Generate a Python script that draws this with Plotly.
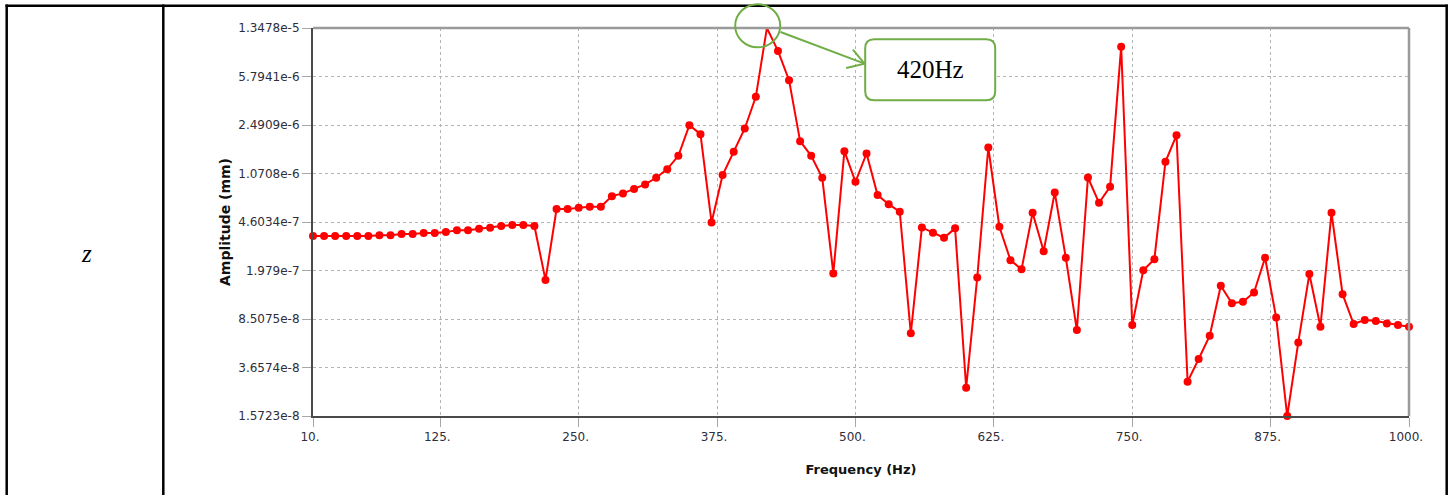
import math
import plotly.graph_objects as go

# Frequency sweep (Hz) and z-direction response amplitude (mm)
freq_hz = [
    10, 20, 30, 40, 50, 60, 70, 80, 90, 100,
    110, 120, 130, 140, 150, 160, 170, 180, 190, 200,
    210, 220, 230, 240, 250, 260, 270, 280, 290, 300,
    310, 320, 330, 340, 350, 360, 370, 380, 390, 400,
    410, 420, 430, 440, 450, 460, 470, 480, 490, 500,
    510, 520, 530, 540, 550, 560, 570, 580, 590, 600,
    610, 620, 630, 640, 650, 660, 670, 680, 690, 700,
    710, 720, 730, 740, 750, 760, 770, 780, 790, 800,
    810, 820, 830, 840, 850, 860, 870, 880, 890, 900,
    910, 920, 930, 940, 950, 960, 970, 980, 990, 1000,
]
amplitude_mm = [
    3.60e-7, 3.60e-7, 3.60e-7, 3.60e-7, 3.60e-7, 3.60e-7, 3.66e-7, 3.66e-7, 3.73e-7, 3.73e-7,
    3.80e-7, 3.80e-7, 3.86e-7, 3.98e-7, 3.98e-7, 4.09e-7, 4.16e-7, 4.29e-7, 4.36e-7, 4.36e-7,
    4.29e-7, 1.68e-7, 5.76e-7, 5.76e-7, 5.89e-7, 6.00e-7, 6.00e-7, 7.22e-7, 7.57e-7, 8.16e-7,
    8.85e-7, 9.94e-7, 1.155e-6, 1.457e-6, 2.485e-6, 2.125e-6, 4.567e-7, 1.041e-6, 1.562e-6, 2.344e-6,
    4.066e-6, 1.3478e-5, 9.05e-6, 5.435e-6, 1.880e-6, 1.457e-6, 9.94e-7, 1.881e-7, 1.580e-6, 9.27e-7,
    1.517e-6, 7.35e-7, 6.28e-7, 5.50e-7, 6.63e-8, 4.19e-7, 3.82e-7, 3.50e-7, 4.12e-7, 2.57e-8,
    1.75e-7, 1.684e-6, 4.24e-7, 2.37e-7, 2.02e-7, 5.40e-7, 2.77e-7, 7.70e-7, 2.47e-7, 7.02e-8,
    9.99e-7, 6.43e-7, 8.49e-7, 9.71e-6, 7.66e-8, 1.99e-7, 2.41e-7, 1.312e-6, 2.088e-6, 2.86e-8,
    4.24e-8, 6.36e-8, 1.52e-7, 1.12e-7, 1.15e-7, 1.35e-7, 2.47e-7, 8.75e-8, 1.5723e-8, 5.66e-8,
    1.86e-7, 7.44e-8, 5.40e-7, 1.31e-7, 7.79e-8, 8.35e-8, 8.21e-8, 7.88e-8, 7.66e-8, 7.44e-8,
]

x_tick_vals = [10, 125, 250, 375, 500, 625, 750, 875, 1000]
x_tick_text = ["10.", "125.", "250.", "375.", "500.", "625.", "750.", "875.", "1000."]
y_tick_text = ["1.5723e-8", "3.6574e-8", "8.5075e-8", "1.979e-7", "4.6034e-7",
               "1.0708e-6", "2.4909e-6", "5.7941e-6", "1.3478e-5"]
y_tick_vals = [float(t) for t in y_tick_text]

row_label = "z"
peak_label = "420Hz"

# Page geometry
FIG_W, FIG_H = 1449, 495
M_L, M_R, M_T, M_B = 313, 40, 28, 79
PW = FIG_W - M_L - M_R
PH = FIG_H - M_T - M_B


def xp(px):
    """Screen pixel x -> paper fraction."""
    return (px - M_L) / PW


def yp(py):
    """Screen pixel y (from top) -> paper fraction."""
    return (FIG_H - M_B - py) / PH


x_lo, x_hi = min(freq_hz), max(freq_hz)
y_lo, y_hi = math.log10(min(amplitude_mm)), math.log10(max(amplitude_mm))

GREEN = "#70ad47"
TICK_FONT = dict(family="DejaVu Sans", size=12, color="#2e2e3c")

fig = go.Figure()
fig.add_trace(go.Scatter(
    x=freq_hz, y=amplitude_mm,
    mode="lines+markers",
    line=dict(color="#ff0000", width=2),
    marker=dict(color="#ff0000", size=8, symbol="circle"),
    cliponaxis=False,
    showlegend=False,
))

# Peak position in paper coordinates, derived from the data and axis ranges
i_pk = amplitude_mm.index(max(amplitude_mm))
pk_x = (freq_hz[i_pk] - x_lo) / (x_hi - x_lo)
pk_y = (math.log10(amplitude_mm[i_pk]) - y_lo) / (y_hi - y_lo)

shapes = []
# plot frame: top and right edges
shapes.append(dict(type="line", xref="paper", yref="paper", x0=0, x1=1, y0=1, y1=1,
                   line=dict(color="#9a9a9a", width=2.5), layer="above"))
shapes.append(dict(type="line", xref="paper", yref="paper", x0=1, x1=1, y0=0, y1=1,
                   line=dict(color="#9a9a9a", width=2.5), layer="above"))

# table rules
for x0, x1, y0, y1 in [
    (5.5, 1447.8, 5.7, 5.7),     # top rule
    (6.7, 6.7, 4.5, 495),        # left rule
    (163.3, 163.3, 4.5, 495),    # column divider
    (1446.7, 1446.7, 4.5, 495),  # right rule
]:
    shapes.append(dict(type="line", xref="paper", yref="paper",
                       x0=xp(x0), x1=xp(x1), y0=yp(y0), y1=yp(y1),
                       line=dict(color="#000000", width=2.5)))

# peak callout (pixel offsets from the peak marker, y upward)
pk_common = dict(xref="paper", yref="paper", xsizemode="pixel", ysizemode="pixel",
                 xanchor=pk_x, yanchor=pk_y)
shapes.append(dict(type="circle", x0=-31.7, x1=13.3, y0=-19.3, y1=23.7,
                   line=dict(color=GREEN, width=2), **pk_common))
shapes.append(dict(type="path", path="M13.6,-4 L97.6,-35.6",
                   line=dict(color=GREEN, width=2), **pk_common))
shapes.append(dict(type="path", path="M86,-21.6 L97.6,-35.6 L79.3,-40",
                   line=dict(color=GREEN, width=2), **pk_common))
bx0, bx1, by0, by1, r = 98.3, 228.3, -72.3, -11.3, 9
box_path = (f"M{bx0 + r},{by1} L{bx1 - r},{by1} Q{bx1},{by1} {bx1},{by1 - r} "
            f"L{bx1},{by0 + r} Q{bx1},{by0} {bx1 - r},{by0} "
            f"L{bx0 + r},{by0} Q{bx0},{by0} {bx0},{by0 + r} "
            f"L{bx0},{by1 - r} Q{bx0},{by1} {bx0 + r},{by1} Z")
shapes.append(dict(type="path", path=box_path, fillcolor="#ffffff",
                   line=dict(color=GREEN, width=2), layer="above", **pk_common))

annotations = [
    dict(text=peak_label, xref="paper", yref="paper", x=pk_x, y=pk_y,
         xanchor="center", yanchor="middle",
         xshift=163.3, yshift=-41.8, showarrow=False,
         font=dict(family="Liberation Serif", size=25, color="#000000")),
    dict(text=f"<i>{row_label}</i>", xref="paper", yref="paper", x=xp(86), y=yp(254),
         xanchor="center", yanchor="middle", showarrow=False,
         font=dict(family="Liberation Serif", size=25, color="#000000")),
]

fig.update_layout(
    width=FIG_W, height=FIG_H,
    margin=dict(l=M_L, r=M_R, t=M_T, b=M_B, pad=0),
    paper_bgcolor="#ffffff", plot_bgcolor="#ffffff",
    shapes=shapes, annotations=annotations,
    showlegend=False,
)
fig.update_xaxes(
    range=[x_lo, x_hi], tickvals=x_tick_vals, ticktext=x_tick_text,
    showgrid=True, gridcolor="#b4b4b4", griddash="dot", gridwidth=1,
    showline=True, linecolor="#4a4a4a", linewidth=2,
    ticks="outside", ticklen=9, tickcolor="#a8a8a8", tickwidth=1,
    tickfont=TICK_FONT, zeroline=False, ticklabelshift=-3,
    title=dict(text="<b>Frequency (Hz)</b>",
               font=dict(family="DejaVu Sans", size=13, color="#111111"), standoff=21),
)
fig.update_yaxes(
    type="log", range=[y_lo, y_hi], tickvals=y_tick_vals, ticktext=y_tick_text,
    showgrid=True, gridcolor="#b4b4b4", griddash="dot", gridwidth=1,
    showline=True, linecolor="#4a4a4a", linewidth=2,
    ticks="outside", ticklen=9, tickcolor="#a8a8a8", tickwidth=1,
    tickfont=TICK_FONT, zeroline=False,
    title=dict(text="<b>Amplitude (mm)</b>",
               font=dict(family="DejaVu Sans", size=14, color="#111111"), standoff=4),
)

fig.write_html("out.html")
